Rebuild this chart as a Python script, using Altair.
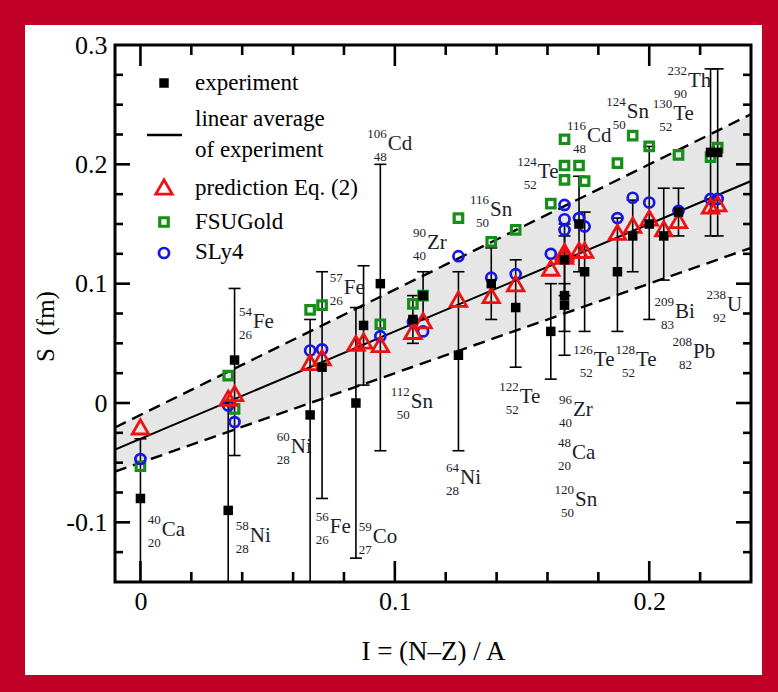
import altair as alt
import pandas as pd

W, H = 636, 537
SERIF = "'Liberation Serif', 'Times New Roman', Times, 'DejaVu Serif', serif"
RED, GREEN, BLUE = "#EE1111", "#178E17", "#1515E6"

# ---- experiment: isospin asymmetry I, skin thickness S and its error range (fm)
exp_I = [0.0, 0.0345, 0.0370, 0.0667, 0.0714, 0.0847, 0.0877, 0.0943, 0.1071, 0.1111,
         0.1250, 0.1379, 0.1475, 0.1613, 0.1667, 0.1667, 0.1667, 0.1724, 0.1746, 0.1875,
         0.1935, 0.2000, 0.2057, 0.2115, 0.2241, 0.2269]
exp_S = [-0.080, -0.090, 0.036, -0.010, 0.030, 0.000, 0.065, 0.100, 0.070, 0.090,
         0.040, 0.100, 0.080, 0.060, 0.120, 0.090, 0.082, 0.150, 0.110, 0.110,
         0.140, 0.150, 0.140, 0.160, 0.210, 0.210]
exp_lo = [-0.200, -0.200, -0.044, -0.200, -0.080, -0.130, 0.015, -0.040, 0.050, 0.070,
          -0.040, 0.070, 0.030, 0.020, 0.090, 0.040, 0.060, 0.110, 0.060, 0.060,
          0.110, 0.070, 0.103, 0.140, 0.140, 0.140]
exp_hi = [-0.030, 0.000, 0.096, 0.070, 0.110, 0.080, 0.115, 0.200, 0.090, 0.110,
          0.110, 0.130, 0.120, 0.100, 0.150, 0.140, 0.100, 0.190, 0.160, 0.155,
          0.170, 0.215, 0.180, 0.180, 0.280, 0.280]

# ---- prediction of Eq. (2), same nuclei as the experiment list
pred_S = [-0.020, 0.004, 0.008, 0.034, 0.038, 0.050, 0.052, 0.049, 0.060, 0.069,
          0.087, 0.090, 0.100, 0.113, 0.125, 0.127, 0.123, 0.128, 0.128, 0.143,
          0.149, 0.155, 0.146, 0.153, 0.165, 0.167]

# ---- mean-field results (FSUGold and SLy4)
mf_I = [0.0, 0.0345, 0.0370, 0.0667, 0.0714, 0.0943, 0.1071, 0.1111, 0.1250, 0.1379,
        0.1475, 0.1613, 0.1667, 0.1667, 0.1667, 0.1724, 0.1746, 0.1875, 0.1935, 0.2000,
        0.2115, 0.2241, 0.2269]
fsu_S = [-0.053, 0.023, -0.005, 0.078, 0.082, 0.066, 0.083, 0.090, 0.155, 0.135,
         0.145, 0.167, 0.221, 0.199, 0.187, 0.199, 0.186, 0.201, 0.224, 0.215,
         0.208, 0.206, 0.214]
sly_S = [-0.047, -0.002, -0.016, 0.044, 0.045, 0.056, 0.068, 0.060, 0.123, 0.105,
         0.108, 0.125, 0.166, 0.154, 0.145, 0.155, 0.148, 0.155, 0.172, 0.168,
         0.161, 0.171, 0.171]

# ---- linear average of experiment and its band (values at the ends of the I range)
fit_I = [-0.01, 0.24]
fit_mid = [-0.039, 0.186]
fit_up = [-0.0205, 0.242]
fit_dn = [-0.0575, 0.130]

# ---- nuclide labels: symbol, mass number, charge, anchor (I, S)
lab_sym = ["Ca", "Ni", "Fe", "Ni", "Fe", "Co", "Fe", "Cd", "Sn", "Zr", "Ni", "Sn", "Te",
           "Te", "Zr", "Ca", "Sn", "Cd", "Te", "Te", "Sn", "Te", "Th", "Bi", "Pb", "U"]
lab_A = ["40", "58", "54", "60", "56", "59", "57", "106", "112", "90", "64", "116", "122",
         "124", "96", "48", "120", "116", "126", "128", "124", "130", "232", "209", "208", "238"]
lab_Z = ["20", "28", "26", "28", "26", "27", "26", "48", "50", "40", "28", "50", "52",
         "52", "40", "20", "50", "48", "52", "52", "50", "52", "90", "83", "82", "92"]
lab_x = [0.0084, 0.0430, 0.0442, 0.0591, 0.0744, 0.0913, 0.0799, 0.0972, 0.1063, 0.1126,
         0.1256, 0.1374, 0.1491, 0.1562, 0.1700, 0.1696, 0.1708, 0.1755, 0.1782, 0.1948,
         0.1912, 0.2094, 0.2152, 0.2101, 0.2172, 0.2306]
lab_y = [-0.1118, -0.1168, 0.0630, -0.0420, -0.1092, -0.1176, 0.0916, 0.2118, -0.0042, 0.1294,
         -0.0681, 0.1571, 0.0000, 0.1882, -0.0109, -0.0471, -0.0866, 0.2185, 0.0311, 0.0311,
         0.2387, 0.2370, 0.2647, 0.0714, 0.0378, 0.0773]

# ---- axis ticks
x_labels = [0.0, 0.1, 0.2]
x_minor = [0.02, 0.04, 0.06, 0.08, 0.12, 0.14, 0.16, 0.18, 0.22]
y_labels = [-0.1, 0.0, 0.1, 0.2, 0.3]
y_major = [-0.1, 0.0, 0.1, 0.2]
y_minor = [-0.125, -0.075, -0.05, -0.025, 0.025, 0.05, 0.075, 0.125, 0.15, 0.175,
           0.225, 0.25, 0.275]

xs = alt.Scale(domain=[-0.01, 0.24], nice=False, zero=False)
ys = alt.Scale(domain=[-0.15, 0.3], nice=False, zero=False)
one = pd.DataFrame({"k": [0]})

exp_df = pd.DataFrame({"I": exp_I, "S": exp_S, "lo": exp_lo, "hi": exp_hi, "P": pred_S})
mf_df = pd.DataFrame({"I": mf_I, "F": fsu_S, "L": sly_S})
fit_df = pd.DataFrame({"I": fit_I, "mid": fit_mid, "up": fit_up, "dn": fit_dn})
lab_df = pd.DataFrame({"x": lab_x, "y": lab_y, "sym": lab_sym, "A": lab_A, "Z": lab_Z})
caps_df = pd.DataFrame({"I": exp_I + exp_I, "c": exp_lo + exp_hi})
caps_df = caps_df[caps_df["c"] > -0.15]

label_expr = "replace(format(datum.value, '.1~f'), '\u2212', '-')"
x_axis = alt.Axis(values=x_labels, labelExpr=label_expr, ticks=False, domain=False, grid=False,
                  labelFont=SERIF, labelFontSize=26, labelColor="black", labelPadding=6,
                  title="I = (N\u2013Z) / A", titleFont=SERIF, titleFontSize=27,
                  titleFontWeight="normal", titleColor="black", titleY=77,
                  titleBaseline="alphabetic", zindex=1)
y_axis = alt.Axis(values=y_labels, labelExpr=label_expr, ticks=False, domain=False, grid=False,
                  labelFont=SERIF, labelFontSize=26, labelColor="black", labelPadding=8,
                  title="S\u2002(fm)", titleFont=SERIF, titleFontSize=25,
                  titleFontWeight="normal", titleColor="black", titleX=-62, titleY=281,
                  titleAngle=270, titleAlign="center", titleBaseline="alphabetic", zindex=1)

# white sheet inside the red frame
sheet = alt.Chart(one).mark_rect(color="white").encode(
    x=alt.value(-90), x2=alt.value(647), y=alt.value(-20), y2=alt.value(630))

band = alt.Chart(fit_df).mark_area(color="#E6E6E6", clip=True).encode(
    x=alt.X("I:Q", scale=xs, axis=x_axis),
    y=alt.Y("dn:Q", scale=ys, axis=y_axis), y2="up:Q")
dash_up = alt.Chart(fit_df).mark_line(color="black", strokeWidth=2.4, strokeDash=[12, 7], clip=True).encode(
    x=alt.X("I:Q", scale=xs), y=alt.Y("up:Q", scale=ys))
dash_dn = alt.Chart(fit_df).mark_line(color="black", strokeWidth=2.4, strokeDash=[12, 7], clip=True).encode(
    x=alt.X("I:Q", scale=xs), y=alt.Y("dn:Q", scale=ys))
mid = alt.Chart(fit_df).mark_line(color="black", strokeWidth=2, clip=True).encode(
    x=alt.X("I:Q", scale=xs), y=alt.Y("mid:Q", scale=ys))

err = alt.Chart(exp_df).mark_rule(color="black", strokeWidth=1.6, clip=True).encode(
    x=alt.X("I:Q", scale=xs), y=alt.Y("lo:Q", scale=ys), y2="hi:Q")
caps = alt.Chart(caps_df).mark_rule(color="black", strokeWidth=1.6, clip=True,
                                    xOffset=-6, x2Offset=6).encode(
    x=alt.X("I:Q", scale=xs), x2="I:Q", y=alt.Y("c:Q", scale=ys))

fsu = alt.Chart(mf_df).mark_point(shape="square", filled=False, color=GREEN, strokeWidth=3.2,
                                  size=72, opacity=1).encode(
    x=alt.X("I:Q", scale=xs), y=alt.Y("F:Q", scale=ys))
sly = alt.Chart(mf_df).mark_point(shape="circle", filled=False, color=BLUE, strokeWidth=2.7,
                                  size=100, opacity=1).encode(
    x=alt.X("I:Q", scale=xs), y=alt.Y("L:Q", scale=ys))
pred = alt.Chart(exp_df).mark_point(shape="triangle-up", filled=False, color=RED, strokeWidth=2.8,
                                    size=270, opacity=1).encode(
    x=alt.X("I:Q", scale=xs), y=alt.Y("P:Q", scale=ys))
expt = alt.Chart(exp_df).mark_point(shape="square", filled=True, color="black", size=90,
                                    opacity=1).encode(
    x=alt.X("I:Q", scale=xs), y=alt.Y("S:Q", scale=ys))

LABC = "#1d1d2b"
sym_t = alt.Chart(lab_df).mark_text(font=SERIF, fontSize=21, align="left", baseline="alphabetic",
                                    color=LABC).encode(
    x=alt.X("x:Q", scale=xs), y=alt.Y("y:Q", scale=ys), text="sym:N")
a_t = alt.Chart(lab_df).mark_text(font=SERIF, fontSize=13, align="right", baseline="alphabetic",
                                  dx=-1, dy=-12, color=LABC).encode(
    x=alt.X("x:Q", scale=xs), y=alt.Y("y:Q", scale=ys), text="A:N")
z_t = alt.Chart(lab_df).mark_text(font=SERIF, fontSize=13, align="right", baseline="alphabetic",
                                  dx=-1, dy=11, color=LABC).encode(
    x=alt.X("x:Q", scale=xs), y=alt.Y("y:Q", scale=ys), text="Z:N")

# in-plot legend
def leg_text(txt, y):
    return alt.Chart(one).mark_text(font=SERIF, fontSize=23, align="left", baseline="alphabetic",
                                    color="black").encode(
        x=alt.value(80), y=alt.value(y), text=alt.value(txt))

legend = [
    alt.Chart(one).mark_point(shape="square", filled=True, color="black", size=90, opacity=1).encode(
        x=alt.value(49), y=alt.value(38)),
    alt.Chart(one).mark_rule(color="black", strokeWidth=2.5).encode(
        x=alt.value(32), x2=alt.value(67), y=alt.value(90)),
    alt.Chart(one).mark_point(shape="triangle-up", filled=False, color=RED, strokeWidth=2.8,
                              size=270, opacity=1).encode(x=alt.value(49), y=alt.value(142)),
    alt.Chart(one).mark_point(shape="square", filled=False, color=GREEN, strokeWidth=3.2,
                              size=72, opacity=1).encode(x=alt.value(49), y=alt.value(177)),
    alt.Chart(one).mark_point(shape="circle", filled=False, color=BLUE, strokeWidth=2.7,
                              size=100, opacity=1).encode(x=alt.value(49), y=alt.value(208)),
    leg_text("experiment", 45),
    leg_text("linear average", 81),
    leg_text("of experiment", 112),
    leg_text("prediction Eq. (2)", 150),
    leg_text("FSUGold", 184),
    leg_text("SLy4", 214),
]

# inward ticks on all four sides
def xticks(vals, length):
    d = pd.DataFrame({"v": vals})
    bot = alt.Chart(d).mark_rule(color="black", strokeWidth=2.6).encode(
        x=alt.X("v:Q", scale=xs), y=alt.value(H), y2=alt.value(H - length))
    top = alt.Chart(d).mark_rule(color="black", strokeWidth=2.6).encode(
        x=alt.X("v:Q", scale=xs), y=alt.value(0), y2=alt.value(length))
    return [bot, top]

def yticks(vals, length):
    d = pd.DataFrame({"v": vals})
    left = alt.Chart(d).mark_rule(color="black", strokeWidth=2.6).encode(
        y=alt.Y("v:Q", scale=ys), x=alt.value(0), x2=alt.value(length))
    right = alt.Chart(d).mark_rule(color="black", strokeWidth=2.6).encode(
        y=alt.Y("v:Q", scale=ys), x=alt.value(W), x2=alt.value(W - length))
    return [left, right]

ticks = xticks(x_labels, 21) + xticks(x_minor, 10) + yticks(y_major, 15) + yticks(y_minor, 8)

frame = alt.Chart(one).mark_rect(fillOpacity=0, stroke="black", strokeWidth=3).encode(
    x=alt.value(0), x2=alt.value(W), y=alt.value(0), y2=alt.value(H))

chart = alt.layer(
    sheet, band, dash_up, dash_dn, mid, err, caps, fsu, sly, pred, expt,
    sym_t, a_t, z_t, *legend, *ticks, frame
).properties(
    width=W, height=H,
    autosize=alt.AutoSizeParams(type="none"),
    padding={"left": 115, "top": 45, "right": 27, "bottom": 110},
    background="#C10028",
).configure_view(strokeWidth=0)

chart.save("out.html", embed_options={"renderer": "svg", "actions": False})
